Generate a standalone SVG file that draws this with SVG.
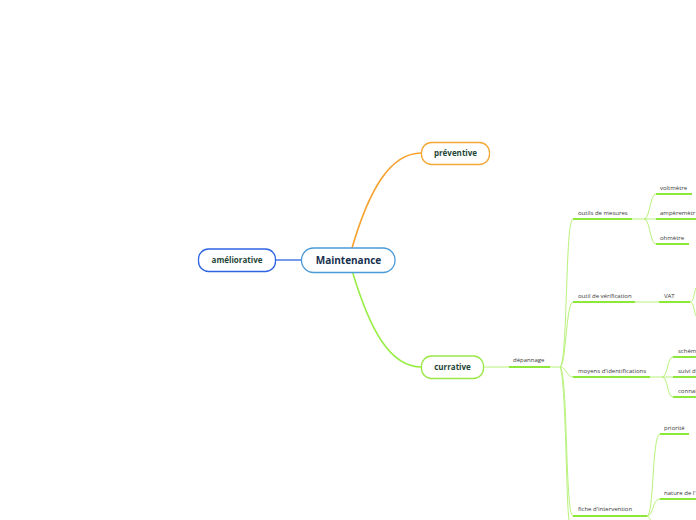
<svg xmlns="http://www.w3.org/2000/svg" width="696" height="520" viewBox="0 0 696 520">
<style>
.box{fill:#fff;stroke-width:1.3}
.big{font-family:"Open Sans","Noto Sans",sans-serif;font-weight:bold;font-size:10px;fill:#17304f;text-anchor:middle}
.mid{font-family:"Open Sans","Noto Sans",sans-serif;font-weight:bold;font-size:8px;fill:#1e4636;text-anchor:middle}
.sm{font-family:"Open Sans","Noto Sans",sans-serif;font-size:6px;fill:#383838}
.thin{fill:none;stroke:#b8f27a;stroke-width:1}
.ul{fill:none;stroke:#8ee83a;stroke-width:2}
</style>
<rect width="696" height="520" fill="#fff"/>
<g id="connectors">
  <line x1="275" y1="260" x2="301" y2="260" stroke="#2f64e4" stroke-width="1.3"/>
  <path d="M352,248 C369,190 390,153 421.5,153" fill="none" stroke="#f7a12c" stroke-width="1.6"/>
  <path d="M352.5,272 C370,330 390,367 421.5,367" fill="none" stroke="#98ee45" stroke-width="1.6"/>
  <line x1="483" y1="367" x2="509" y2="367" class="thin"/>
  <path d="M509,367 H550 M573,219 H632 M573,302 H635 M659,302 H690 M573,377 H650 M573,516 H647 M656,194 H692 M656,219 H696 M656,244 H689 M673,357 H696 M673,377 H696 M673,397 H696 M660,434 H689 M660,499 H696" class="ul"/>
  <path d="M550,367 H560 C568,362 565,219 573,219 M560,367 C566,367 566,302 573,302 M560,367 C566,367 567,377 573,377 M560,367 C568,372 565,516 573,516 M560,367 C566,380 566,500 569,520" class="thin"/>
  <path d="M632,219 H644 C650,219 650,194 656,194 M644,219 H656 M644,219 C650,219 650,244 656,244" class="thin"/>
  <path d="M635,302 H659 M690,302 C694,302 694,292 696,288 M690,302 C694,302 694,312 696,316" class="thin"/>
  <path d="M650,377 H662 C668,377 667,357 673,357 M662,377 H673 M662,377 C668,377 667,397 673,397" class="thin"/>
  <path d="M647,516 C654,516 652,434 660,434 M647,516 C654,516 652,499 660,499 M647,516 C650,518 651,520 651,522" class="thin"/>
</g>
<g id="maintenance">
  <rect class="box" x="301.5" y="248" width="93.5" height="24.5" rx="12" stroke="#4a9ad8"/>
  <text class="big" x="348.5" y="264">Maintenance</text>
</g>
<g id="ameliorative">
  <rect class="box" x="198.5" y="249" width="77" height="22.5" rx="10" stroke="#2f64e4"/>
  <text class="mid" x="237" y="263">améliorative</text>
</g>
<g id="preventive">
  <rect class="box" x="421.5" y="142.5" width="68" height="22" rx="10" stroke="#f5a735"/>
  <text class="mid" x="455.5" y="156.3">préventive</text>
</g>
<g id="currative">
  <rect class="box" x="421.5" y="356" width="62" height="22.5" rx="10" stroke="#9ae848"/>
  <text class="mid" x="452.5" y="370">currative</text>
</g>
<g id="depannage"><text class="sm" x="513" y="362">dépannage</text></g>
<g id="outils-mesures"><text class="sm" x="578" y="214.5">outils de mesures</text></g>
<g id="voltmetre"><text class="sm" x="660" y="189.5">voltmètre</text></g>
<g id="amperemetre"><text class="sm" x="660" y="214.5">ampèremètr</text></g>
<g id="ohmetre"><text class="sm" x="660" y="239.5">ohmètre</text></g>
<g id="outil-verification"><text class="sm" x="578" y="297.5">outil de vérification</text></g>
<g id="vat"><text class="sm" x="664" y="297.5">VAT</text></g>
<g id="moyens"><text class="sm" x="578" y="372.5">moyens d'identifications</text></g>
<g id="schema"><text class="sm" x="678" y="352.5">schém</text></g>
<g id="suivi"><text class="sm" x="678" y="372.5">suivi d</text></g>
<g id="connai"><text class="sm" x="678" y="392.5">connai</text></g>
<g id="fiche"><text class="sm" x="578" y="510.5">fiche d'intervention</text></g>
<g id="priorite"><text class="sm" x="664" y="429.5">priorité</text></g>
<g id="nature"><text class="sm" x="664" y="494.5">nature de l'</text></g>
</svg>
